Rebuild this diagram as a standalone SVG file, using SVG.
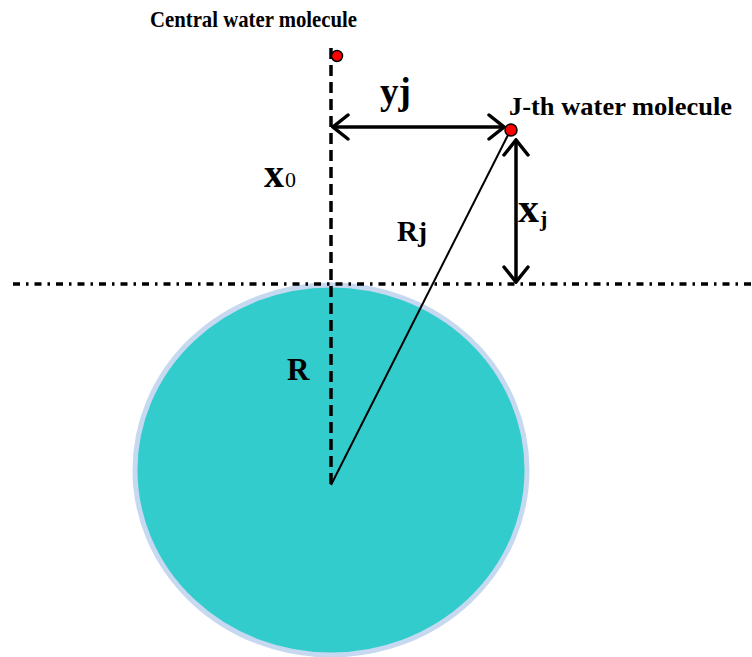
<svg xmlns="http://www.w3.org/2000/svg" width="752" height="657" viewBox="0 0 752 657">
<defs>
<style>
.lbl{font-family:"Liberation Serif","Times New Roman",serif;font-weight:bold;fill:#000}
.dot{fill:#FF0000;stroke:#000;stroke-width:1.5}
.arrow{stroke:#000;stroke-width:3.5;fill:none}
</style>
<marker id="chev" viewBox="0 0 20 28" refX="18" refY="14" markerWidth="20" markerHeight="28" markerUnits="userSpaceOnUse" orient="auto-start-reverse">
<path d="M3,2 L18,14 L3,26" fill="none" stroke="#000" stroke-width="3.5" stroke-linecap="round" stroke-linejoin="miter"/>
</marker>
</defs>
<rect width="752" height="657" fill="#fff"/>
<g id="sphere">
<ellipse cx="331" cy="470" rx="196" ry="185" fill="#33CCCC" stroke="#C6D9F0" stroke-width="5"/>
</g>
<g id="connectors">
<line x1="331" y1="48" x2="331" y2="485" stroke="#000" stroke-width="3.5" stroke-dasharray="11 6"/>
<line x1="13" y1="284" x2="752" y2="284" stroke="#000" stroke-width="3.5" stroke-dasharray="7 6 2.5 6"/>
<line x1="331" y1="485" x2="508" y2="135" stroke="#000" stroke-width="2"/>
<line class="arrow" x1="333" y1="127" x2="504" y2="127" marker-start="url(#chev)" marker-end="url(#chev)"/>
<line class="arrow" x1="516" y1="140" x2="516" y2="282" marker-start="url(#chev)" marker-end="url(#chev)"/>
</g>
<g id="central-molecule">
<circle class="dot" cx="337" cy="56" r="5.5"/>
<text class="lbl" x="150" y="27" font-size="23" textLength="207" lengthAdjust="spacingAndGlyphs">Central water molecule</text>
</g>
<g id="jth-molecule">
<circle class="dot" cx="511" cy="130" r="6"/>
<text class="lbl" x="509" y="115" font-size="25" textLength="223" lengthAdjust="spacingAndGlyphs">J-th water molecule</text>
</g>
<g id="labels">
<text class="lbl" x="380" y="104" font-size="37">yj</text>
<text class="lbl" x="264" y="187" font-size="40">x</text>
<text x="285" y="187" font-size="22" font-family="Liberation Serif,serif">0</text>
<text class="lbl" x="397" y="241" font-size="29">R<tspan font-size="27">j</tspan></text>
<text class="lbl" x="518" y="222" font-size="42">x</text>
<text class="lbl" x="540" y="226" font-size="22">j</text>
<text class="lbl" x="287" y="380" font-size="31">R</text>
</g>
</svg>
